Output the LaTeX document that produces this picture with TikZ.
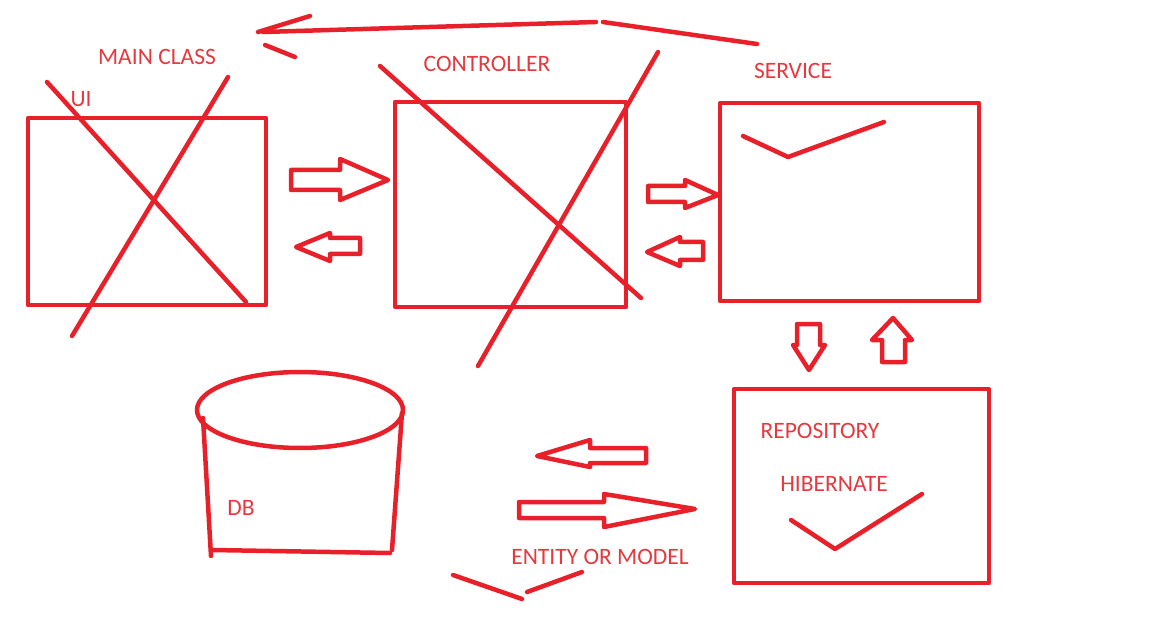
\documentclass[tikz,border=0pt]{standalone}
\usepackage{fontspec}
\setmainfont{Carlito}
\definecolor{pen}{HTML}{E8202A}
\definecolor{ink}{HTML}{E5393F}
\begin{document}
\begin{tikzpicture}[x=1pt,y=-1pt,
  stroke/.style={draw=pen,line width=4.5pt,line cap=round,line join=round},
  lbl/.style={text=ink,font=\fontsize{23.5}{26}\selectfont,inner sep=0pt}]
\useasboundingbox (0,0) rectangle (1152,639);
% top arrow
\draw[stroke] (757,44) -- (603,22);
\draw[stroke] (596,22) -- (263,32);
\draw[stroke] (258,32) -- (310,16);
\draw[stroke] (265,45) -- (295,57);
% labels
\node[lbl] (mc) at (157,57) {MAIN CLASS};
\node[lbl] (ui) at (81,99) {UI};
\node[lbl] (ct) at (487,64) {CONTROLLER};
\node[lbl] (sv) at (793,71) {SERVICE};
\node[lbl] (rp) at (820,431) {REPOSITORY};
\node[lbl] (hb) at (834,484) {HIBERNATE};
\node[lbl] (em) at (600,557) {ENTITY OR MODEL};
\node[lbl] (db) at (241,508) {DB};
% UI box
\draw[stroke] (28,118) rectangle (266,305);
\draw[stroke] (47,82) -- (246,302);
\draw[stroke] (228,77) -- (72,336);
% Controller box
\draw[stroke] (395,102) rectangle (626,307);
\draw[stroke] (380,66) -- (641,298);
\draw[stroke] (658,52) -- (478,366);
% Service box
\draw[stroke] (720,103) rectangle (979,301);
\draw[stroke] (743,136) -- (788,157) -- (884,122);
% Repository box
\draw[stroke] (734,389) rectangle (989,583);
\draw[stroke] (791,520) -- (835,549) -- (922,494);
% block arrows
\draw[stroke] (291,170) -- (340,170) -- (340,159) -- (388,180) -- (340,200) -- (340,190) -- (291,190) -- cycle;
\draw[stroke] (360,238) -- (330,238) -- (330,233) -- (296,247) -- (330,261) -- (330,254) -- (360,254) -- cycle;
\draw[stroke] (648,186) -- (685,186) -- (685,180) -- (718,195) -- (685,208) -- (685,202) -- (648,202) -- cycle;
\draw[stroke] (703,242) -- (680,242) -- (680,237) -- (647,252) -- (680,266) -- (680,260) -- (703,260) -- cycle;
\draw[stroke] (797,324) -- (820,324) -- (820,345) -- (825,345) -- (809,370) -- (793,345) -- (797,345) -- cycle;
\draw[stroke] (882,362) -- (882,340) -- (872,340) -- (893,318) -- (912,340) -- (905,340) -- (905,362) -- cycle;
\draw[stroke] (646,448) -- (590,448) -- (590,440) -- (537,456) -- (590,467) -- (590,463) -- (646,463) -- cycle;
\draw[stroke] (519,502) -- (604,502) -- (604,494) -- (695,509) -- (604,527) -- (604,518) -- (519,518) -- cycle;
% bottom marks
\draw[stroke] (453,575) -- (522,599);
\draw[stroke] (527,592) -- (582,572);
% DB cylinder
\draw[stroke] (300,410) ellipse [x radius=103,y radius=38];
\draw[stroke] (203,418) -- (211,556);
\draw[stroke] (402,413) -- (392,550);
\draw[stroke] (212,550) -- (390,553);
\end{tikzpicture}
\end{document}
